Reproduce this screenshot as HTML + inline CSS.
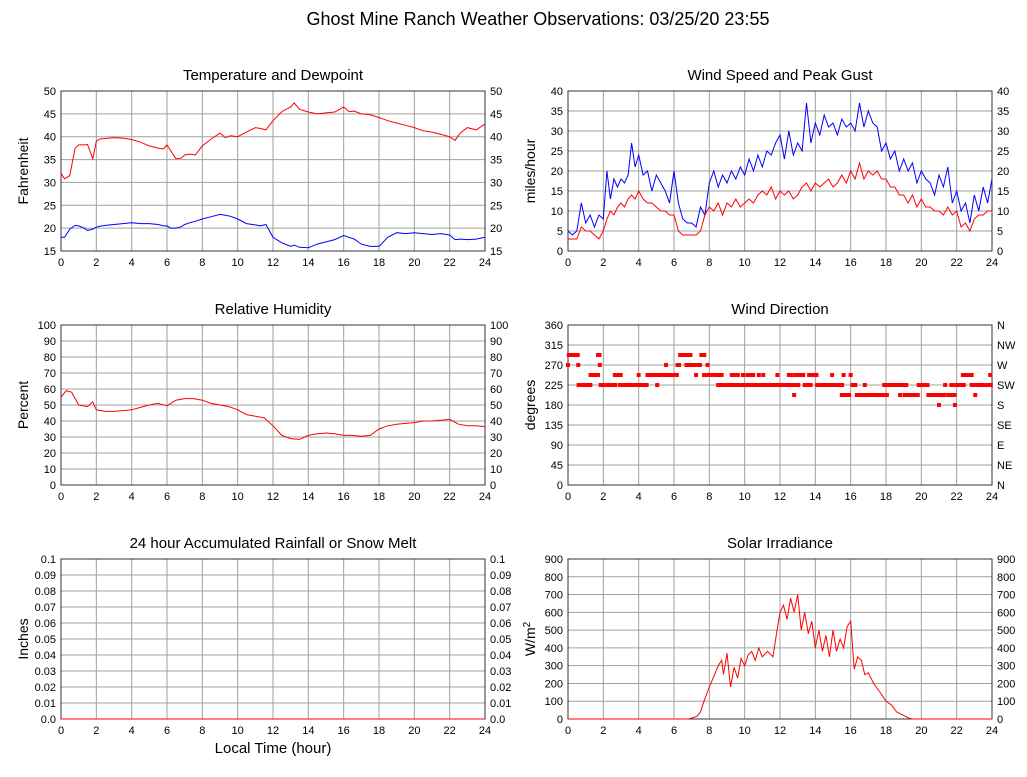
<!DOCTYPE html>
<html><head><meta charset="utf-8"><style>
body{margin:0;background:#fff;width:1027px;height:772px;overflow:hidden;font-family:"Liberation Sans",sans-serif}
svg text{font-family:"Liberation Sans",sans-serif;fill:#000}
</style></head><body>
<svg id="c" width="1027" height="772" xmlns="http://www.w3.org/2000/svg">
<text x="538" y="25" font-size="18" text-anchor="middle">Ghost Mine Ranch Weather Observations: 03/25/20 23:55</text>
<text x="273" y="753" font-size="15" text-anchor="middle">Local Time (hour)</text>
</svg>
<script>
// Temperature / dewpoint
const tHours=[0,0.2,0.5,0.8,1,1.3,1.5,1.8,2,2.2,2.5,3,3.5,4,4.5,5,5.5,5.8,6,6.2,6.5,6.8,7,7.3,7.6,8,8.5,9,9.3,9.6,10,10.5,11,11.3,11.6,12,12.5,13,13.2,13.5,14,14.5,15,15.5,16,16.3,16.6,17,17.5,18,18.5,19,19.5,20,20.5,21,21.5,22,22.3,22.6,23,23.5,24];
const tempVals=[32,30.8,31.5,37.5,38.2,38.2,38.3,35.2,39,39.5,39.6,39.8,39.7,39.4,38.8,38,37.5,37.3,38.2,37,35.2,35.3,36,36.2,36,38,39.5,40.8,39.8,40.2,40,41,42,41.8,41.5,43.5,45.5,46.5,47.4,46,45.4,45,45.2,45.4,46.5,45.5,45.6,45,44.8,44.2,43.5,43,42.5,42,41.3,41,40.5,40,39.2,40.8,42,41.5,42.8];
const dewVals=[18,18,19.8,20.6,20.5,20,19.5,19.8,20.2,20.4,20.6,20.8,21,21.2,21,21,20.8,20.5,20.5,20,20,20.3,20.8,21.2,21.5,22,22.5,23,22.8,22.6,22,21,20.7,20.5,20.8,18,16.8,16,16.3,15.8,15.7,16.5,17,17.5,18.4,18,17.6,16.5,16,16,18,19,18.8,19,18.8,18.6,18.8,18.5,17.5,17.6,17.5,17.6,18];
// Relative humidity
const rhHours=[0,0.3,0.6,1,1.5,1.8,2,2.5,3,3.5,4,4.5,5,5.5,6,6.5,7,7.5,8,8.5,9,9.5,10,10.5,11,11.5,12,12.5,13,13.5,14,14.5,15,15.5,16,16.5,17,17.5,18,18.5,19,19.5,20,20.5,21,21.5,22,22.5,23,23.5,24];
const rhVals=[55,59,58,50,49,52,47,46,46,46.5,47,48.5,50,51,49.5,53,54,54,53,51,50,49,47,44,43,42,37,31,29,28.5,31,32,32.5,32,31,31,30.5,31,35,37,38,38.5,39,40,40,40.5,41,38,37,37,36.5];
// Wind speed / gust
const wHours=[0,0.25,0.5,0.75,1,1.25,1.5,1.75,2,2.2,2.4,2.6,2.8,3,3.2,3.4,3.6,3.8,4,4.25,4.5,4.75,5,5.25,5.5,5.75,6,6.25,6.5,6.75,7,7.25,7.5,7.75,8,8.25,8.5,8.75,9,9.25,9.5,9.75,10,10.25,10.5,10.75,11,11.25,11.5,11.75,12,12.25,12.5,12.75,13,13.25,13.5,13.75,14,14.25,14.5,14.75,15,15.25,15.5,15.75,16,16.25,16.5,16.75,17,17.25,17.5,17.75,18,18.25,18.5,18.75,19,19.25,19.5,19.75,20,20.25,20.5,20.75,21,21.25,21.5,21.75,22,22.25,22.5,22.75,23,23.25,23.5,23.75,24];
const gustVals=[5,4,5,12,7,9,6,9,8,20,13,18,16,18,17,19,27,21,24,19,20,15,19,17,15,12,20,12,8,7,7,6,11,9,17,20,16,19,17,20,18,21,19,23,20,24,21,25,24,27,29,23,30,24,27,25,37,27,32,29,34,31,32,29,33,31,32,30,37,31,35,32,31,25,27,23,25,20,23,20,22,17,20,18,17,14,19,16,21,12,15,10,12,7,14,10,16,12,18,24,25];
const speedVals=[3,3,3,6,5,5,4,3,5,8,10,9,11,12,11,13,14,13,15,13,12,12,11,10,10,9,9,5,4,4,4,4,5,9,11,10,12,9,12,11,13,11,12,13,12,14,15,14,16,13,15,14,15,13,14,16,17,15,17,16,17,18,16,17,19,17,20,18,22,18,20,19,20,18,18,16,16,14,14,12,14,11,13,11,11,10,10,9,11,9,10,6,7,5,8,9,9,10,10,11,15];
// Wind direction runs
const dirStart=[0.05,1.7,6.35,7.55,0,0.58,1.8,5.55,6.2,6.7,6.97,7.9,1.28,2.65,4.0,4.5,7.25,7.7,9.27,9.45,9.9,10.15,10.8,11.05,11.85,12.5,12.9,13.65,14.95,15.6,16.0,22.35,23.9,0.6,1.85,2.95,5.05,8.5,12.7,13.4,14.1,16.1,16.8,17.9,19.85,21.35,21.7,21.9,22.85,12.8,15.5,16.35,18.05,18.8,19.05,20.4,21.55,23.05,21.0,21.9];
const dirEnd=[0.6,1.8,6.95,7.75,0,0.58,1.8,5.55,6.3,6.8,7.5,7.9,1.7,3.0,4.0,6.2,7.25,8.7,9.27,9.65,9.9,10.55,10.8,11.05,11.85,12.7,13.35,14.1,14.95,15.6,16.0,22.85,23.9,1.3,2.7,4.5,5.05,12.5,13.1,13.8,15.55,16.3,16.8,19.2,20.4,21.35,21.7,22.4,24,12.8,15.95,17.9,18.05,18.8,19.85,21.35,21.9,23.05,21.0,21.9];
const dirDeg=[292.5,292.5,292.5,292.5,270,270,270,270,270,270,270,270,247.5,247.5,247.5,247.5,247.5,247.5,247.5,247.5,247.5,247.5,247.5,247.5,247.5,247.5,247.5,247.5,247.5,247.5,247.5,247.5,247.5,225,225,225,225,225,225,225,225,225,225,225,225,225,225,225,225,202.5,202.5,202.5,202.5,202.5,202.5,202.5,202.5,202.5,180,180];
// Rainfall
const rainHours=[0,24];
const rainVals=[0,0];
// Solar
const solHours=[0,6.8,7,7.3,7.5,7.7,8,8.3,8.5,8.7,8.8,9,9.2,9.4,9.6,9.8,10,10.2,10.4,10.6,10.8,11,11.3,11.6,11.8,12,12.2,12.4,12.6,12.8,13,13.2,13.4,13.6,13.8,14,14.2,14.4,14.6,14.8,15,15.2,15.4,15.6,15.8,16,16.2,16.4,16.6,16.8,17,17.3,17.6,18,18.3,18.6,19,19.3,19.5,24];
const solVals=[0,0,5,15,40,100,180,250,300,330,250,370,180,290,230,340,300,360,380,330,400,350,380,350,480,600,640,560,680,600,700,500,600,480,550,400,500,380,470,350,500,380,450,400,520,550,280,350,330,250,260,200,160,100,80,40,20,5,0,0];
const xTicks=[0,2,4,6,8,10,12,14,16,18,20,22,24];
const dirLabels=['N','NE','E','SE','S','SW','W','NW','N'];

const svg=document.getElementById('c');const NS='http://www.w3.org/2000/svg';
function mk(t,a,p){const e=document.createElementNS(NS,t);for(const k in a)e.setAttribute(k,a[k]);(p||svg).appendChild(e);return e;}
function panel(name,L,T,title,ymin,ymax,ystep,ylab,fmt,rightLabels){
  const W=424,H=160;const g=mk('g',{});
  
  
  const X=h=>L+h/24*W, Y=v=>T+H-(v-ymin)/(ymax-ymin)*H;
  const tt=mk('text',{x:L+W/2,y:T-11,'font-size':15,'text-anchor':'middle'},g);tt.textContent=title;
  
  
  const n=Math.round((ymax-ymin)/ystep);
  for(let i=0;i<=n;i++){const v=ymin+i*ystep;const y=Y(v);
    mk('line',{x1:L,x2:L+W,y1:y,y2:y,stroke:'#a0a0a0','stroke-width':1},g);
    const t=mk('text',{x:L-5,y:y+4,'font-size':11,'text-anchor':'end'},g);t.textContent=fmt(v);
    
    
    const r=mk('text',{x:L+W+5,y:y+4,'font-size':11},g);r.textContent=rightLabels?rightLabels[i]:fmt(v);
    
    
  }
  xTicks.forEach(h=>{const x=X(h);mk('line',{x1:x,x2:x,y1:T,y2:T+H,stroke:'#a0a0a0','stroke-width':1},g);
    const t=mk('text',{x:x,y:T+H+15,'font-size':11,'text-anchor':'middle'},g);t.textContent=h;
    
    });
  mk('rect',{x:L,y:T,width:W,height:H,fill:'none',stroke:'#333','stroke-width':1},g);
  const yl=mk('text',{transform:`translate(${L-33},${T+H/2}) rotate(-90)`,'font-size':14,'text-anchor':'middle'},g);
  yl.innerHTML=ylab;
  
  
  return {g,X,Y};
}
function line(p,hs,vs,col,name){const d=hs.map((h,i)=>(i?'L':'M')+p.X(h).toFixed(1)+','+p.Y(vs[i]).toFixed(1)).join('');
  const e=mk('path',{d:d,fill:'none',stroke:col,'stroke-width':1},p.g);
  
  }
const f0=v=>String(Math.round(v));
let p=panel('temperature-panel',61,91,'Temperature and Dewpoint',15,50,5,'Fahrenheit',f0);
line(p,tHours,tempVals,'#ff0000','temperature-line');line(p,tHours,dewVals,'#0000ff','dewpoint-line');
p=panel('wind-speed-panel',568,91,'Wind Speed and Peak Gust',0,40,5,'miles/hour',f0);
line(p,wHours,gustVals,'#0000ff','gust-line');line(p,wHours,speedVals,'#ff0000','speed-line');
p=panel('humidity-panel',61,325,'Relative Humidity',0,100,10,'Percent',f0);
line(p,rhHours,rhVals,'#ff0000','humidity-line');
p=panel('wind-direction-panel',568,325,'Wind Direction',0,360,45,'degrees',f0,dirLabels);
dirDeg.forEach((d,i)=>{for(let h=dirStart[i];h<=dirEnd[i]+1e-6;h+=0.0833){
  const r=mk('rect',{x:p.X(h)-2,y:p.Y(d)-2,width:4,height:4,fill:'#ff0000'},p.g);
  
  }});
p=panel('rainfall-panel',61,559,'24 hour Accumulated Rainfall or Snow Melt',0,0.1,0.01,'Inches',v=>v<0.005?'0.0':(+v.toFixed(2)).toString());
line(p,rainHours,rainVals,'#ff0000','rainfall-line');
p=panel('solar-panel',568,559,'Solar Irradiance',0,900,100,'W/m<tspan baseline-shift="super" font-size="10">2</tspan>',f0);
line(p,solHours,solVals,'#ff0000','solar-line');
</script>
</body></html>
